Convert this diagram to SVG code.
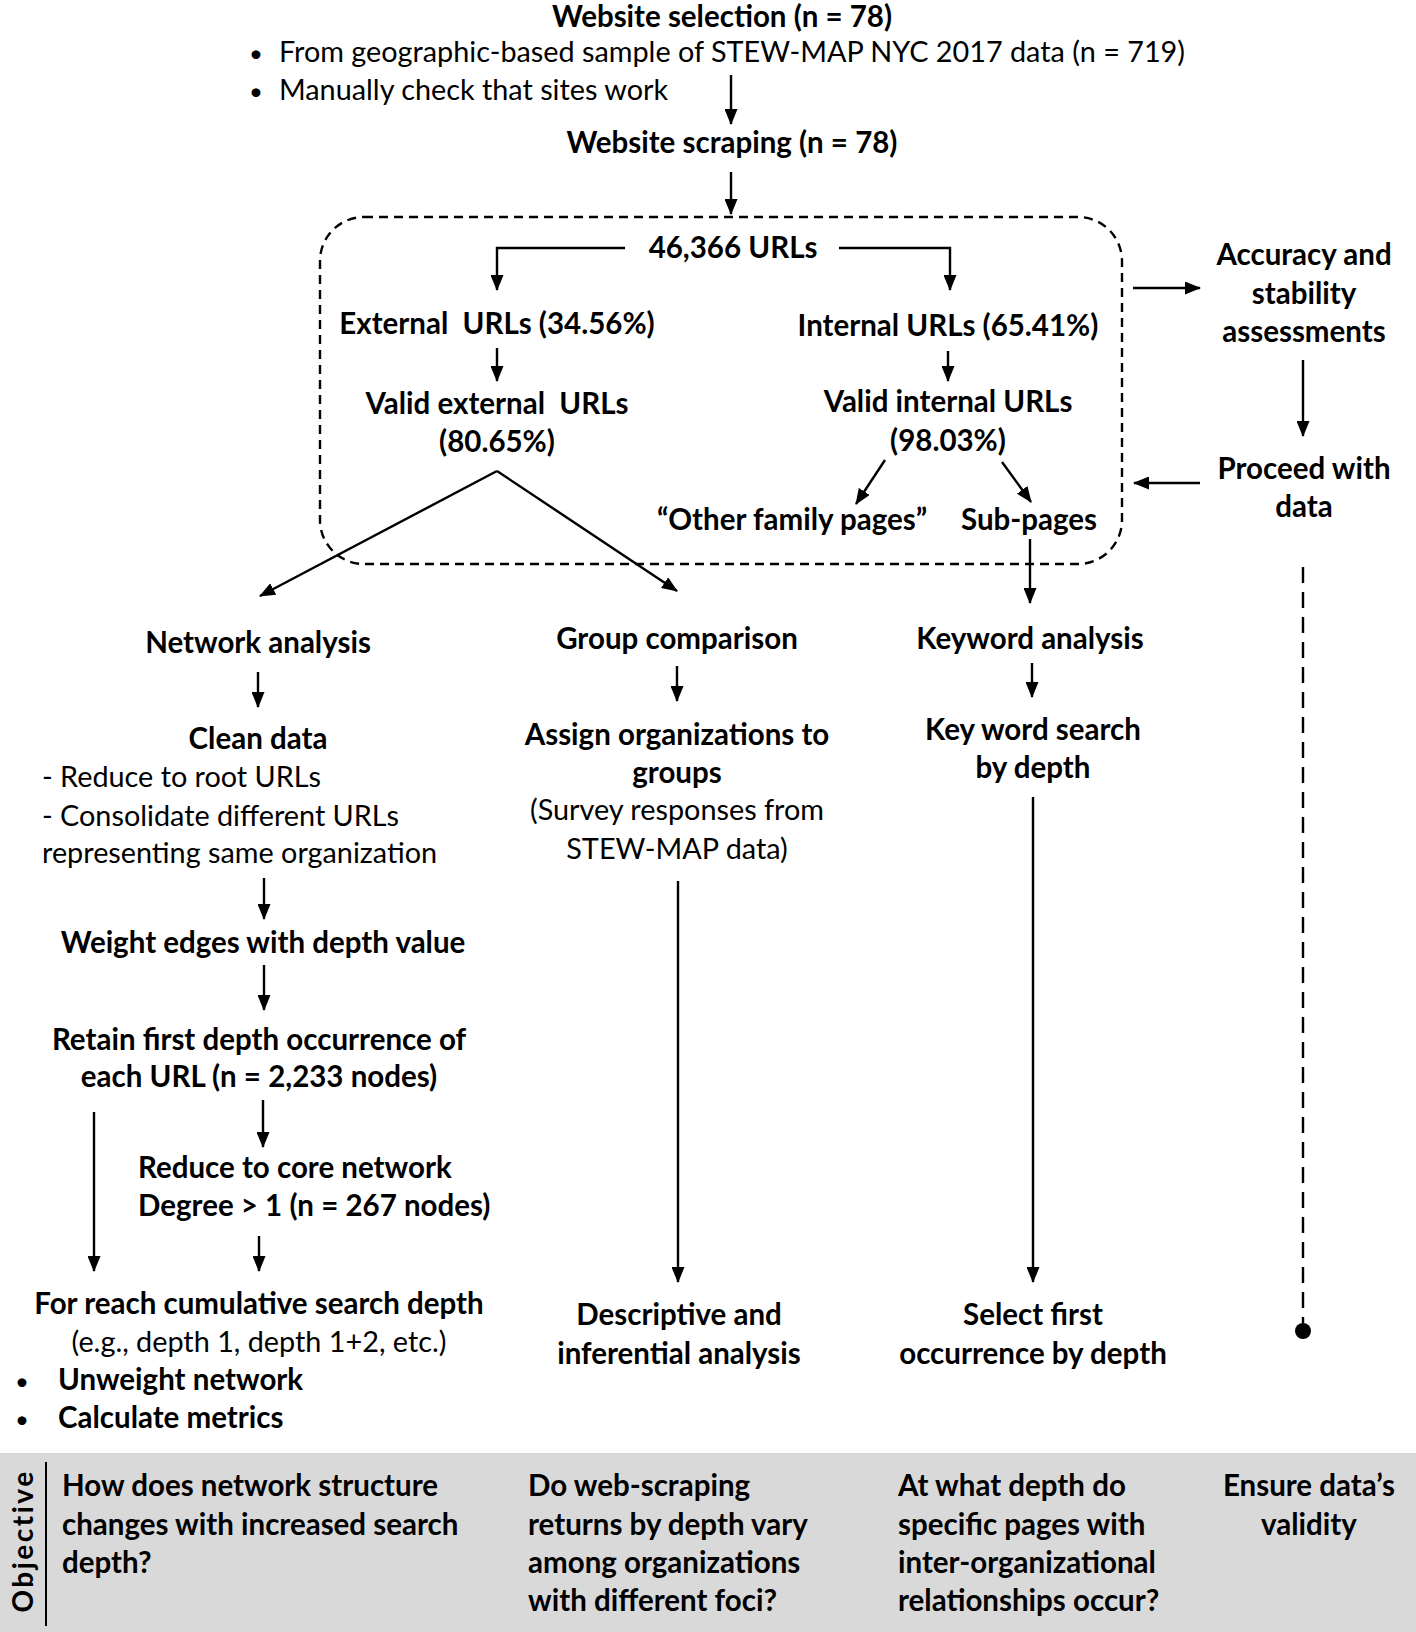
<svg xmlns="http://www.w3.org/2000/svg" width="1416" height="1632" viewBox="0 0 1416 1632">
<defs>
<marker id="ah" viewBox="0 0 16 13" refX="15" refY="6.5" markerWidth="16" markerHeight="13" markerUnits="userSpaceOnUse" orient="auto">
<path d="M0,0 L16,6.5 L0,13 Z" fill="#000"/>
</marker>
<style>
text{font-family:"Lato","Open Sans","Liberation Sans",sans-serif;font-size:28.8px;fill:#000}
.b{font-weight:bold;font-size:29.5px}
.c{text-anchor:middle}
.ln{stroke:#000;stroke-width:2.4;fill:none}
.ar{stroke:#000;stroke-width:2.4;fill:none;marker-end:url(#ah)}
</style>
</defs>
<rect width="1416" height="1632" fill="#fff"/>

<g id="connectors">
<path class="ar" d="M731,75 V124"/>
<path class="ar" d="M731,172 V214"/>
<rect x="320" y="217" width="802" height="347" rx="44" ry="44" fill="none" stroke="#000" stroke-width="2.4" stroke-dasharray="9,6"/>
<path class="ar" d="M625,248 H497 V290"/>
<path class="ar" d="M839,248 H950 V290"/>
<path class="ar" d="M497,348 V381"/>
<path class="ar" d="M948,351 V381"/>
<path class="ar" d="M497,471 L260,596"/>
<path class="ar" d="M497,471 L677,591"/>
<path class="ar" d="M885,460 L856,504"/>
<path class="ar" d="M1002,462 L1031,502"/>
<path class="ar" d="M1030,539 V603"/>
<path class="ar" d="M1133,288 H1200"/>
<path class="ar" d="M1303,360 V436"/>
<path class="ar" d="M1200,483 H1134"/>
<path class="ln" d="M1303,567 V1323" stroke-dasharray="16,9"/>
<circle cx="1303" cy="1331" r="8" fill="#000"/>
<path class="ar" d="M258,672 V707"/>
<path class="ar" d="M264,878 V919"/>
<path class="ar" d="M264,965 V1010"/>
<path class="ar" d="M94,1112 V1271"/>
<path class="ar" d="M263,1100 V1147"/>
<path class="ar" d="M259,1236 V1271"/>
<path class="ar" d="M677,666 V701"/>
<path class="ar" d="M678,881 V1282"/>
<path class="ar" d="M1032,663 V697"/>
<path class="ar" d="M1033,797 V1282"/>
</g>

<g id="website-selection">
<text class="b c" x="722" y="27">Website selection (n = 78)</text>
<text x="249" y="62" style="font-size:24px">•</text>
<text x="279" y="62">From geographic-based sample of STEW-MAP NYC 2017 data (n = 719)</text>
<text x="249" y="100" style="font-size:24px">•</text>
<text x="279" y="100">Manually check that sites work</text>
</g>
<g id="website-scraping"><text class="b c" x="732" y="153">Website scraping (n = 78)</text></g>
<g id="urls"><text class="b c" x="733" y="258">46,366 URLs</text></g>
<g id="external"><text class="b c" x="497" y="334">External&#160; URLs (34.56%)</text></g>
<g id="internal"><text class="b c" x="948" y="336">Internal URLs (65.41%)</text></g>
<g id="valid-external"><text class="b c" x="497" y="414">Valid external&#160; URLs</text><text class="b c" x="497" y="452">(80.65%)</text></g>
<g id="valid-internal"><text class="b c" x="948" y="412">Valid internal URLs</text><text class="b c" x="948" y="451">(98.03%)</text></g>
<g id="other-family"><text class="b c" x="792" y="530">“Other family pages”</text></g>
<g id="sub-pages"><text class="b c" x="1029" y="530">Sub-pages</text></g>
<g id="accuracy"><text class="b c" x="1304" y="265">Accuracy and</text><text class="b c" x="1304" y="304">stability</text><text class="b c" x="1304" y="342">assessments</text></g>
<g id="proceed"><text class="b c" x="1304" y="479">Proceed with</text><text class="b c" x="1304" y="517">data</text></g>

<g id="network-analysis"><text class="b c" x="258" y="653">Network analysis</text></g>
<g id="clean-data">
<text class="b c" x="258" y="749">Clean data</text>
<text x="42" y="787">- Reduce to root URLs</text>
<text x="42" y="826">- Consolidate different URLs</text>
<text x="42" y="863">representing same organization</text>
</g>
<g id="weight-edges"><text class="b c" x="263" y="953">Weight edges with depth value</text></g>
<g id="retain"><text class="b c" x="259" y="1050">Retain first depth occurrence of</text><text class="b c" x="259" y="1087">each URL (n = 2,233 nodes)</text></g>
<g id="reduce-core"><text class="b" x="138" y="1178">Reduce to core network</text><text class="b" x="138" y="1216">Degree &gt; 1 (n = 267 nodes)</text></g>
<g id="cumulative">
<text class="b c" x="259" y="1314">For reach cumulative search depth</text>
<text class="c" x="259" y="1352">(e.g., depth 1, depth 1+2, etc.)</text>
<text x="15" y="1390" style="font-size:24px">•</text><text class="b" x="58" y="1390">Unweight network</text>
<text x="15" y="1428" style="font-size:24px">•</text><text class="b" x="58" y="1428">Calculate metrics</text>
</g>

<g id="group-comparison"><text class="b c" x="677" y="649">Group comparison</text></g>
<g id="assign">
<text class="b c" x="677" y="745">Assign organizations to</text>
<text class="b c" x="677" y="783">groups</text>
<text class="c" x="677" y="820">(Survey responses from</text>
<text class="c" x="677" y="859">STEW-MAP data)</text>
</g>
<g id="descriptive"><text class="b c" x="679" y="1325">Descriptive and</text><text class="b c" x="679" y="1364">inferential analysis</text></g>

<g id="keyword-analysis"><text class="b c" x="1030" y="649">Keyword analysis</text></g>
<g id="keyword-search"><text class="b c" x="1033" y="740">Key word search</text><text class="b c" x="1033" y="778">by depth</text></g>
<g id="select-first"><text class="b c" x="1033" y="1325">Select first</text><text class="b c" x="1033" y="1364">occurrence by depth</text></g>

<g id="objective">
<rect x="0" y="1453" width="1416" height="179" fill="#d9d9d9"/>
<path d="M46,1462 V1626" stroke="#000" stroke-width="2"/>
<text class="b c" transform="translate(33,1541) rotate(-90)" style="letter-spacing:2.5px;font-size:28px">Objective</text>
<text class="b" x="62" y="1496">How does network structure</text>
<text class="b" x="62" y="1535">changes with increased search</text>
<text class="b" x="62" y="1573">depth?</text>
<text class="b" x="528" y="1496">Do web-scraping</text>
<text class="b" x="528" y="1535">returns by depth vary</text>
<text class="b" x="528" y="1573">among organizations</text>
<text class="b" x="528" y="1611">with different foci?</text>
<text class="b" x="898" y="1496">At what depth do</text>
<text class="b" x="898" y="1535">specific pages with</text>
<text class="b" x="898" y="1573">inter-organizational</text>
<text class="b" x="898" y="1611">relationships occur?</text>
<text class="b c" x="1309" y="1496">Ensure data’s</text>
<text class="b c" x="1309" y="1535">validity</text>
</g>
</svg>
